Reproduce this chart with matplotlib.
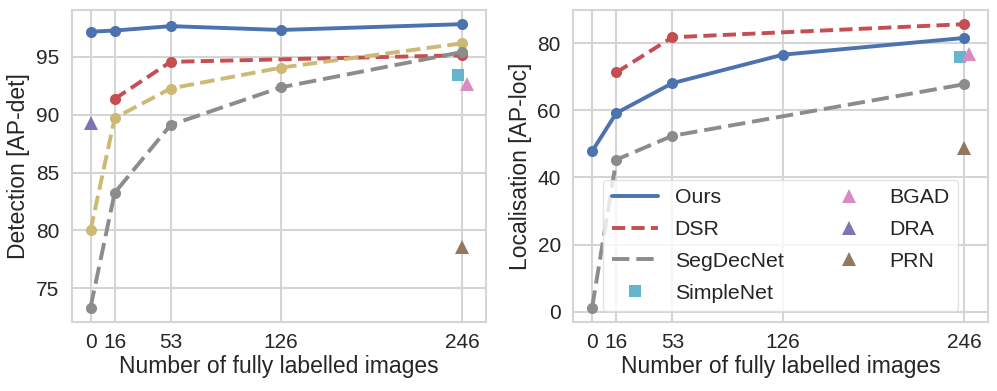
import matplotlib
matplotlib.use("Agg")
import matplotlib.pyplot as plt
from matplotlib.lines import Line2D
import seaborn as sns

sns.set_theme(style="whitegrid")
plt.rcParams['font.family'] = ['Liberation Sans', 'DejaVu Sans']
plt.rcParams['lines.scale_dashes'] = False

# ---- data ----
x_ticks = [0, 16, 53, 126, 246]

# Detection (AP-det)
det_ours_x = [0, 16, 53, 126, 246]
det_ours_y = [97.15, 97.25, 97.63, 97.3, 97.8]
det_dsr_x = [16, 53, 246]
det_dsr_y = [91.35, 94.55, 95.12]
det_other_x = [0, 16, 53, 126, 246]
det_other_y = [80.0, 89.7, 92.25, 94.05, 96.15]
det_seg_x = [0, 16, 53, 126, 246]
det_seg_y = [73.35, 83.25, 89.1, 92.35, 95.4]
det_simplenet = (243, 93.45)
det_bgad = (249, 92.6)
det_dra = (0, 89.3)
det_prn = (246, 78.6)

# Localisation (AP-loc)
loc_ours_x = [0, 16, 53, 126, 246]
loc_ours_y = [47.8, 59.2, 68.1, 76.6, 81.6]
loc_dsr_x = [16, 53, 246]
loc_dsr_y = [71.3, 81.8, 85.7]
loc_seg_x = [0, 16, 53, 246]
loc_seg_y = [1.2, 45.3, 52.4, 67.8]
loc_simplenet = (243, 76.0)
loc_bgad = (249, 76.7)
loc_prn = (246, 48.7)

legend_labels = ['Ours', 'DSR', 'SegDecNet', 'SimpleNet', 'BGAD', 'DRA', 'PRN']

# ---- style ----
C_BLUE = '#4C72B0'
C_RED = '#C44E52'
C_YEL = '#CCB974'
C_GRAY = '#8C8C8C'
C_CYAN = '#64B5CD'
C_PINK = '#DA8BC3'
C_PURP = '#8172B3'
C_BROWN = '#937860'
LW = 2.8
MS = 8
TS = 9.5
GRID = '#D5D5D5'
DASH_DSR = (0, (9.5, 4.5))
DASH_OTH = (0, (10.5, 4.5))
DASH_SEG = (0, (12.5, 5))
TXT = '#262626'

fig = plt.figure(figsize=(9.97, 3.91), dpi=100)
axL = fig.add_axes([0.0719, 0.1772, 0.4152, 0.7972])
axR = fig.add_axes([0.5750, 0.1772, 0.4157, 0.7972])

def style_axes(ax):
    for s in ax.spines.values():
        s.set_color(GRID)
        s.set_linewidth(1.5)
    ax.grid(True, color=GRID, linewidth=1.5)
    ax.set_xticks(x_ticks)
    ax.tick_params(axis='both', labelsize=15, colors=TXT, length=0)
    ax.tick_params(axis='y', pad=9)
    ax.tick_params(axis='x', pad=8)
    ax.set_xlabel('Number of fully labelled images', fontsize=16.5, color=TXT, labelpad=2)

# Left: detection
axL.plot(det_ours_x, det_ours_y, '-o', color=C_BLUE, lw=LW, ms=MS, mew=0)
axL.plot(det_dsr_x, det_dsr_y, 'o', ls=DASH_DSR, color=C_RED, lw=LW, ms=MS, mew=0)
axL.plot(det_other_x, det_other_y, 'o', ls=DASH_OTH, color=C_YEL, lw=LW, ms=MS, mew=0)
axL.plot(det_seg_x, det_seg_y, 'o', ls=DASH_SEG, color=C_GRAY, lw=LW, ms=MS, mew=0)
axL.plot([det_simplenet[0]], [det_simplenet[1]], 's', color=C_CYAN, ms=9, mew=0)
axL.plot([det_bgad[0]], [det_bgad[1]], '^', color=C_PINK, ms=TS, mew=0)
axL.plot([det_dra[0]], [det_dra[1]], '^', color=C_PURP, ms=TS, mew=0)
axL.plot([det_prn[0]], [det_prn[1]], '^', color=C_BROWN, ms=TS, mew=0)
style_axes(axL)
axL.set_yticks([75, 80, 85, 90, 95])
axL.set_ylabel('Detection [AP-det]', fontsize=16.5, color=TXT, labelpad=4)

# Right: localisation
axR.plot(loc_ours_x, loc_ours_y, '-o', color=C_BLUE, lw=LW, ms=MS, mew=0)
axR.plot(loc_dsr_x, loc_dsr_y, 'o', ls=DASH_DSR, color=C_RED, lw=LW, ms=MS, mew=0)
axR.plot(loc_seg_x, loc_seg_y, 'o', ls=DASH_SEG, color=C_GRAY, lw=LW, ms=MS, mew=0)
axR.plot([loc_simplenet[0]], [loc_simplenet[1]], 's', color=C_CYAN, ms=9, mew=0)
axR.plot([loc_bgad[0]], [loc_bgad[1]], '^', color=C_PINK, ms=TS, mew=0)
axR.plot([loc_prn[0]], [loc_prn[1]], '^', color=C_BROWN, ms=TS, mew=0)
style_axes(axR)
axR.set_yticks([0, 20, 40, 60, 80])
axR.set_ylabel('Localisation [AP-loc]', fontsize=16.5, color=TXT, labelpad=4)

handles = [
    Line2D([], [], color=C_BLUE, lw=LW),
    Line2D([], [], color=C_RED, lw=LW, ls=DASH_DSR),
    Line2D([], [], color=C_GRAY, lw=LW, ls=DASH_SEG),
    Line2D([], [], color=C_CYAN, marker='s', ls='none', ms=9, mew=0),
    Line2D([], [], color=C_PINK, marker='^', ls='none', ms=TS, mew=0),
    Line2D([], [], color=C_PURP, marker='^', ls='none', ms=TS, mew=0),
    Line2D([], [], color=C_BROWN, marker='^', ls='none', ms=TS, mew=0),
]
leg = axR.legend(handles, legend_labels, loc='lower center', ncol=2, fontsize=15.3,
                 handlelength=2.17, columnspacing=2.0, labelspacing=0.6,
                 frameon=True, framealpha=0.8, edgecolor='#DDDDDD')
for t in leg.get_texts():
    t.set_color(TXT)

fig.savefig('out.png', dpi=100)
